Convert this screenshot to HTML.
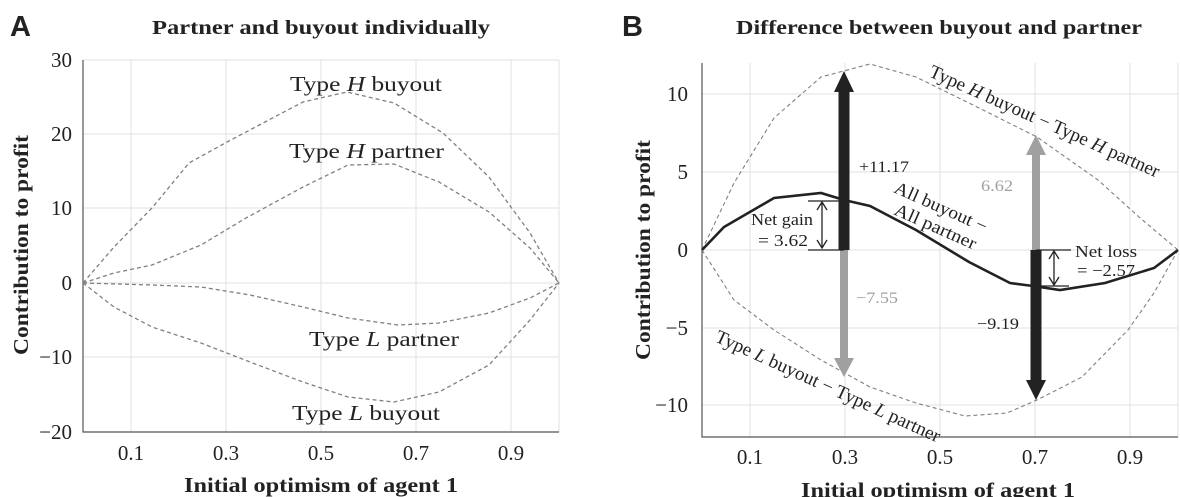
<!DOCTYPE html>
<html><head><meta charset="utf-8"><style>
body{margin:0;background:#fff;}
svg{display:block;}
text{font-family:"Liberation Serif",serif;fill:#222;}
.t{font-size:21px;}
.b{font-weight:bold;}
.g{stroke:#e2e2e2;stroke-width:1;}
.d{fill:none;stroke:#808080;stroke-width:1.3;stroke-dasharray:4,3;}
</style></head><body>
<svg width="1180" height="497" viewBox="0 0 1180 497">
<!-- Panel A -->
<text x="10" y="36" style="font-family:'Liberation Sans',sans-serif;font-weight:bold;font-size:29px">A</text>
<text x="152" y="34" class="b" style="font-size:20px" textLength="338" lengthAdjust="spacingAndGlyphs">Partner and buyout individually</text>
<g class="g">
<line x1="83" y1="60" x2="559" y2="60"/><line x1="83" y1="134" x2="559" y2="134"/><line x1="83" y1="208" x2="559" y2="208"/><line x1="83" y1="283" x2="559" y2="283"/><line x1="83" y1="357" x2="559" y2="357"/>
<line x1="131" y1="60" x2="131" y2="432"/><line x1="226" y1="60" x2="226" y2="432"/><line x1="321" y1="60" x2="321" y2="432"/><line x1="416" y1="60" x2="416" y2="432"/><line x1="511" y1="60" x2="511" y2="432"/><line x1="559" y1="60" x2="559" y2="432"/>
</g>
<polyline points="83,60 83,432 559,432" fill="none" stroke="#555" stroke-width="1.2"/>
<g class="t" text-anchor="end">
<text x="72" y="67">30</text><text x="72" y="141">20</text><text x="72" y="215">10</text><text x="72" y="290">0</text><text x="72" y="364">−10</text><text x="72" y="439">−20</text>
</g>
<g class="t" text-anchor="middle">
<text x="131" y="460">0.1</text><text x="226" y="460">0.3</text><text x="321" y="460">0.5</text><text x="416" y="460">0.7</text><text x="511" y="460">0.9</text>
</g>
<text x="184" y="492" class="b" style="font-size:21px" textLength="274" lengthAdjust="spacingAndGlyphs">Initial optimism of agent 1</text>
<text transform="translate(28,355) rotate(-90)" class="b" style="font-size:21px" textLength="220" lengthAdjust="spacingAndGlyphs">Contribution to profit</text>
<g class="d">
<polyline points="83,283 114,247 152,208 189,163 227,142 265,122 303,102 347,92 394,103 443,133 489,177 530,233 559,283"/>
<polyline points="83,283 114,273 152,265 201,245 246,218 303,187 348,165 394,164 439,182 489,212 530,248 559,283"/>
<polyline points="83,283 152,285 201,287 250,295 303,307 348,318 398,325 439,323 489,313 530,298 559,283"/>
<polyline points="83,283 114,307 152,327 201,343 250,362 303,382 348,397 394,402 439,392 489,365 530,320 559,283"/>
</g>
<g class="t">
<text x="290" y="91" textLength="152" lengthAdjust="spacingAndGlyphs">Type <tspan font-style="italic">H</tspan> buyout</text>
<text x="289" y="158" textLength="155" lengthAdjust="spacingAndGlyphs">Type <tspan font-style="italic">H</tspan> partner</text>
<text x="309" y="346" textLength="150" lengthAdjust="spacingAndGlyphs">Type <tspan font-style="italic">L</tspan> partner</text>
<text x="292" y="420" textLength="148" lengthAdjust="spacingAndGlyphs">Type <tspan font-style="italic">L</tspan> buyout</text>
</g>
<!-- Panel B -->
<text x="622" y="36" style="font-family:'Liberation Sans',sans-serif;font-weight:bold;font-size:29px">B</text>
<text x="736" y="34" class="b" style="font-size:20px" textLength="406" lengthAdjust="spacingAndGlyphs">Difference between buyout and partner</text>
<g class="g">
<line x1="702" y1="94" x2="1178" y2="94"/><line x1="702" y1="172" x2="1178" y2="172"/><line x1="702" y1="250" x2="1178" y2="250"/><line x1="702" y1="328" x2="1178" y2="328"/><line x1="702" y1="405" x2="1178" y2="405"/>
<line x1="750" y1="63" x2="750" y2="437"/><line x1="845" y1="63" x2="845" y2="437"/><line x1="940" y1="63" x2="940" y2="437"/><line x1="1035" y1="63" x2="1035" y2="437"/><line x1="1130" y1="63" x2="1130" y2="437"/><line x1="1178" y1="63" x2="1178" y2="437"/>
</g>
<polyline points="702,63 702,437 1178,437" fill="none" stroke="#555" stroke-width="1.2"/>
<g class="t" text-anchor="end">
<text x="688" y="101">10</text><text x="688" y="179">5</text><text x="688" y="257">0</text><text x="688" y="335">−5</text><text x="688" y="412">−10</text>
</g>
<g class="t" text-anchor="middle">
<text x="750" y="464">0.1</text><text x="845" y="464">0.3</text><text x="940" y="464">0.5</text><text x="1035" y="464">0.7</text><text x="1130" y="464">0.9</text>
</g>
<text x="801" y="497" class="b" style="font-size:21px" textLength="274" lengthAdjust="spacingAndGlyphs">Initial optimism of agent 1</text>
<text transform="translate(650,360) rotate(-90)" class="b" style="font-size:21px" textLength="220" lengthAdjust="spacingAndGlyphs">Contribution to profit</text>
<g class="d" style="stroke-width:1.1">
<polyline points="702,250 734,183 774,118 821,77 870,64 916,77 969,103 1037,137 1098,180 1139,217 1178,250"/>
<polyline points="702,250 734,300 774,330 821,360 870,387 916,403 965,416 1007,413 1037,400 1082,377 1128,330 1154,293 1178,250"/>
</g>
<g>
<rect x="838.5" y="90" width="11" height="160" fill="#222"/><polygon points="834,92 854,92 844,71" fill="#222"/>
<rect x="840" y="250" width="8" height="110" fill="#a0a0a0"/><polygon points="834,358 854,358 844,377" fill="#a0a0a0"/>
<rect x="1032" y="153" width="8" height="97" fill="#a0a0a0"/><polygon points="1026,155 1046,155 1036,135" fill="#a0a0a0"/>
<rect x="1030.5" y="250" width="11" height="132" fill="#222"/><polygon points="1026,380 1046,380 1036,400" fill="#222"/>
</g>
<polyline points="702,250 724,227 774,198 821,193 844,200 870,206 916,230 969,262 1010,283 1033,286 1060,290 1105,283 1154,268 1178,250" fill="none" stroke="#222" stroke-width="2.6"/>
<g stroke="#222" stroke-width="1.3" fill="none">
<line x1="808" y1="250" x2="844" y2="250"/><line x1="808" y1="201" x2="842" y2="201"/>
<line x1="822" y1="203" x2="822" y2="248"/>
<polyline points="817,210 822,202 827,210"/><polyline points="817,240 822,248 827,240"/>
<line x1="1036" y1="250" x2="1071" y2="250"/><line x1="1038" y1="286" x2="1069" y2="286"/>
<line x1="1054" y1="252" x2="1054" y2="284"/>
<polyline points="1049,259 1054,251 1059,259"/><polyline points="1049,277 1054,285 1059,277"/>
</g>
<g style="font-size:17px">
<text x="751" y="225" textLength="62" lengthAdjust="spacingAndGlyphs">Net gain</text><text x="758" y="246" textLength="50" lengthAdjust="spacingAndGlyphs">= 3.62</text>
<text x="1075" y="257" textLength="62" lengthAdjust="spacingAndGlyphs">Net loss</text><text x="1077" y="276" textLength="58" lengthAdjust="spacingAndGlyphs">= −2.57</text>
</g>
<g style="font-size:16px;font-family:'Liberation Sans',sans-serif">
<text x="859" y="172" textLength="50" lengthAdjust="spacingAndGlyphs">+11.17</text>
<text x="981" y="191" style="fill:#a0a0a0" textLength="32" lengthAdjust="spacingAndGlyphs">6.62</text>
<text x="856" y="303" style="fill:#a0a0a0" textLength="42" lengthAdjust="spacingAndGlyphs">−7.55</text>
<text x="977" y="329" textLength="42" lengthAdjust="spacingAndGlyphs">−9.19</text>
</g>
<g style="font-size:19px">
<text transform="translate(928,76) rotate(24)" textLength="250" lengthAdjust="spacingAndGlyphs">Type <tspan font-style="italic">H</tspan> buyout − Type <tspan font-style="italic">H</tspan> partner</text>
<text transform="translate(714,341) rotate(24.5)" textLength="245" lengthAdjust="spacingAndGlyphs">Type <tspan font-style="italic">L</tspan> buyout − Type <tspan font-style="italic">L</tspan> partner</text>
</g>
<g style="font-size:18px">
<text transform="translate(893,192) rotate(24)" textLength="100" lengthAdjust="spacingAndGlyphs">All buyout −</text>
<text transform="translate(893,214) rotate(24)" textLength="88" lengthAdjust="spacingAndGlyphs">All partner</text>
</g>
</svg>
</body></html>
